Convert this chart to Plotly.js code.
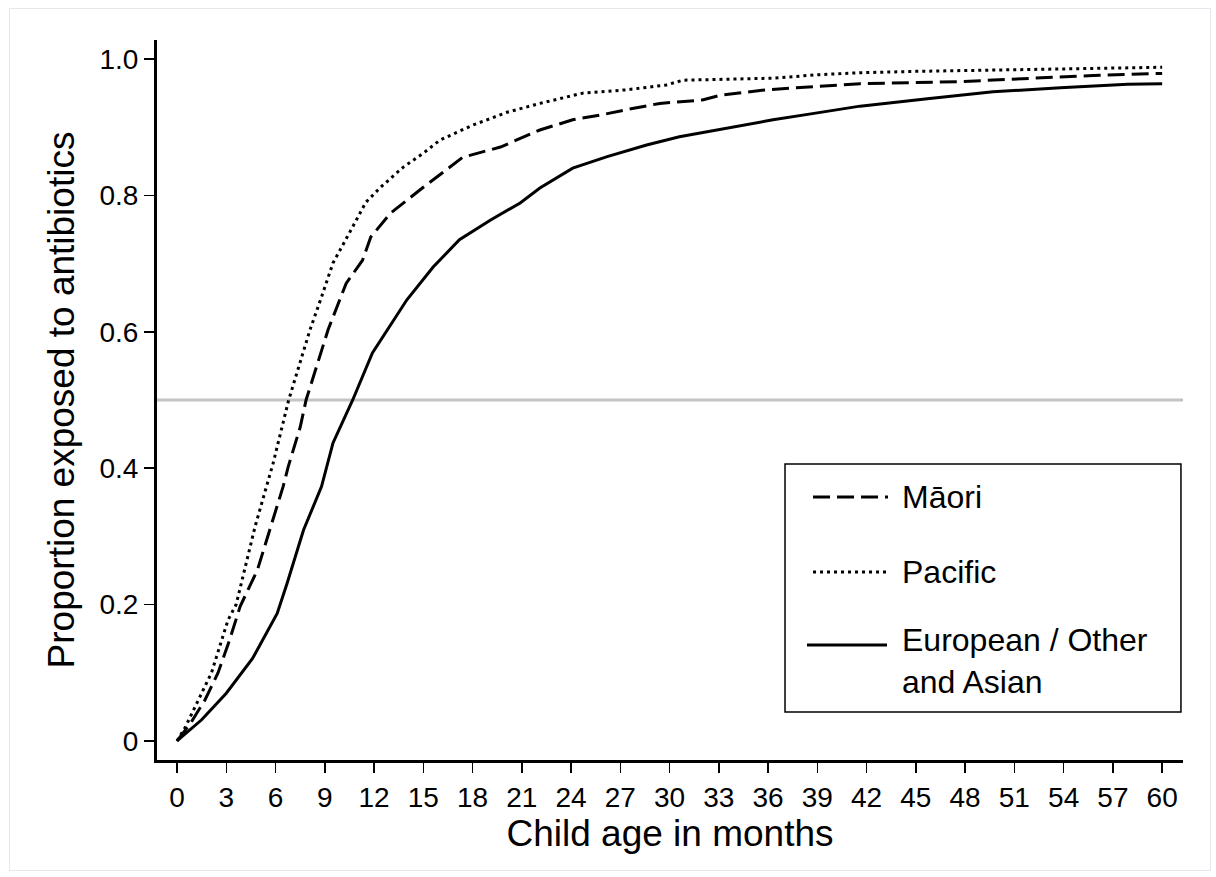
<!DOCTYPE html>
<html>
<head>
<meta charset="utf-8">
<script src="https://cdn.plot.ly/plotly-3.0.1.min.js"></script>
<style>
  html, body { margin: 0; padding: 0; background: #ffffff; }
  #chart { width: 1216px; height: 877px; }
  #frame { position: absolute; left: 9px; top: 8px; width: 1200px; height: 861px;
           border: 1px solid #e4e8ec; pointer-events: none; }
</style>
</head>
<body>
<div id="chart"></div>
<div id="frame"></div>
<script>
// Child age in months and proportion exposed to antibiotics
const pacificMonths = [0, 0.5, 1.4, 2.1, 3.1, 3.6, 4.75, 5.85, 6.8, 8.1, 8.8, 9.5, 10.7, 11.5, 12.4, 13.8, 15, 16, 18, 20.1, 22.1, 24.7, 27.4, 29.8, 30.8, 33, 36.3, 39, 41.6, 45, 48, 51.8, 55, 60];
const pacificValues = [0, 0.02, 0.065, 0.1, 0.177, 0.2, 0.314, 0.407, 0.5, 0.603, 0.651, 0.701, 0.754, 0.79, 0.812, 0.842, 0.862, 0.881, 0.903, 0.922, 0.935, 0.95, 0.955, 0.962, 0.969, 0.970, 0.972, 0.977, 0.980, 0.982, 0.983, 0.984, 0.986, 0.988];

const maoriMonths = [0, 0.8, 1.7, 2.5, 3.2, 3.84, 4.9, 5.5, 6.46, 6.77, 7.5, 7.86, 8.8, 9.2, 10.3, 11.3, 11.8, 13, 15, 17.4, 19.7, 22.1, 24.1, 25.8, 27.2, 29.4, 32, 33.1, 35.9, 38.7, 41.6, 47.7, 51.8, 55.8, 60];
const maoriValues = [0, 0.025, 0.06, 0.1, 0.148, 0.197, 0.251, 0.299, 0.373, 0.402, 0.46, 0.5, 0.573, 0.603, 0.671, 0.705, 0.739, 0.774, 0.812, 0.856, 0.871, 0.896, 0.911, 0.918, 0.925, 0.935, 0.940, 0.947, 0.955, 0.959, 0.964, 0.967, 0.971, 0.976, 0.979];

const europeanMonths = [0, 1.5, 3.0, 4.6, 6.1, 6.7, 7.7, 8.8, 9.5, 10.7, 11.9, 12.8, 14, 15.6, 17.2, 19.1, 20.9, 22.1, 24.1, 26.2, 28.6, 30.6, 33.5, 36.3, 38.7, 41.6, 45.7, 49.7, 53.8, 57.9, 60];
const europeanValues = [0, 0.031, 0.07, 0.121, 0.187, 0.231, 0.309, 0.373, 0.437, 0.5, 0.569, 0.603, 0.647, 0.695, 0.735, 0.764, 0.789, 0.811, 0.840, 0.857, 0.874, 0.886, 0.899, 0.911, 0.920, 0.931, 0.942, 0.952, 0.958, 0.963, 0.964];

const seriesNames = ["Māori", "Pacific", "European / Other<br>and Asian"];
const xTickVals = [0, 3, 6, 9, 12, 15, 18, 21, 24, 27, 30, 33, 36, 39, 42, 45, 48, 51, 54, 57, 60];
const yTickVals = [0, 0.2, 0.4, 0.6, 0.8, 1.0];
const yTickText = ["0", "0.2", "0.4", "0.6", "0.8", "1.0"];
const referenceLevel = 0.5;

const font = "Liberation Sans, Arial, Helvetica, sans-serif";
const dashes = ["17px,7px", "3px,4px", "solid"];

const traces = [
  { x: maoriMonths, y: maoriValues, name: seriesNames[0].replace("<br>", " "),
    mode: "lines", line: { color: "#000", width: 3, dash: dashes[0] } },
  { x: pacificMonths, y: pacificValues, name: seriesNames[1],
    mode: "lines", line: { color: "#000", width: 3, dash: dashes[1] } },
  { x: europeanMonths, y: europeanValues, name: seriesNames[2].replace("<br>", " "),
    mode: "lines", line: { color: "#000", width: 3, dash: dashes[2] } }
];

// Legend box drawn as shapes and annotations (paper coordinates)
const legBox = { x0: 0.6121, x1: 0.998, y0: 0.0667, y1: 0.4111 };
const legRows = [0.3653, 0.2611, 0.1597];      // sample line heights
const legTextY = [0.3653, 0.2611, 0.1375];     // text anchor heights
const legSampleX = [[0.6394, 0.7125], [0.6394, 0.7125], [0.6335, 0.7115]];
const legTextX = 0.7244;

const shapes = [
  { type: "line", xref: "paper", yref: "y", x0: 0, x1: 1, y0: referenceLevel, y1: referenceLevel,
    line: { color: "#c4c4c4", width: 3 }, layer: "below" },
  { type: "rect", xref: "paper", yref: "paper", x0: legBox.x0, x1: legBox.x1, y0: legBox.y0, y1: legBox.y1,
    line: { color: "#000", width: 1.5 }, fillcolor: "#fff", layer: "above" }
];
const annotations = [];
for (let i = 0; i < seriesNames.length; i++) {
  shapes.push({ type: "line", xref: "paper", yref: "paper",
    x0: legSampleX[i][0], x1: legSampleX[i][1], y0: legRows[i], y1: legRows[i],
    line: { color: "#000", width: 3, dash: dashes[i] }, layer: "above" });
  annotations.push({ xref: "paper", yref: "paper", x: legTextX, y: legTextY[i],
    xanchor: "left", yanchor: "middle", align: "left", showarrow: false,
    text: seriesNames[i], font: { family: font, size: 32, color: "#000" } });
}

const layout = {
  width: 1216, height: 877,
  margin: { l: 157, r: 33, t: 40, b: 117 },
  paper_bgcolor: "#fff", plot_bgcolor: "#fff",
  font: { family: font, color: "#000" },
  showlegend: false,
  xaxis: {
    range: [-1.22, 61.27], showgrid: false, zeroline: false,
    showline: true, linecolor: "#000", linewidth: 3,
    ticks: "outside", ticklen: 10, tickwidth: 1.5, tickcolor: "#000",
    tickmode: "array", tickvals: xTickVals,
    tickfont: { family: font, size: 28, color: "#000" },
    title: { text: "Child age in months", font: { family: font, size: 37, color: "#000" }, standoff: 4 }
  },
  yaxis: {
    range: [-0.028, 1.028], showgrid: false, zeroline: false,
    showline: true, linecolor: "#000", linewidth: 3,
    ticks: "outside", ticklen: 10, tickwidth: 1.5, tickcolor: "#000",
    tickmode: "array", tickvals: yTickVals, ticktext: yTickText,
    tickfont: { family: font, size: 28, color: "#000" },
    title: { text: "Proportion exposed to antibiotics", font: { family: font, size: 37, color: "#000" }, standoff: 14 }
  },
  shapes: shapes,
  annotations: annotations
};

Plotly.newPlot("chart", traces, layout, { displayModeBar: false, staticPlot: true });
</script>
</body>
</html>
